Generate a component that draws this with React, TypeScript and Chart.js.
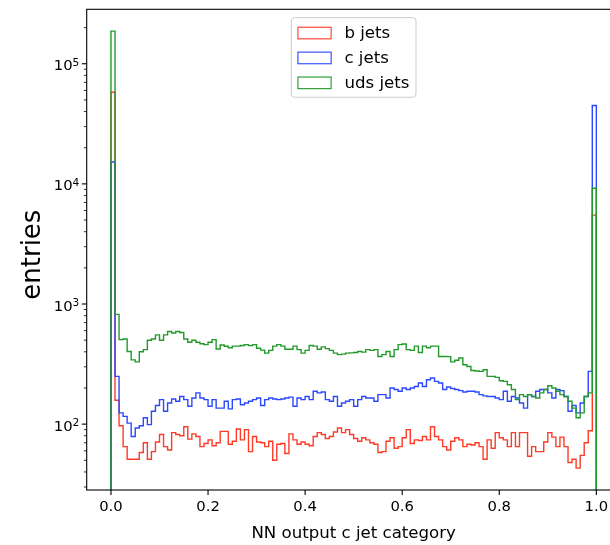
import React, { useEffect, useRef } from 'react';
import { Chart, registerables } from 'chart.js';

Chart.register(...registerables);

const FONT = '"DejaVu Sans", "Liberation Sans", sans-serif';

// Histogram binning of the NN output (c jet category score)
const BIN_MIN = 0;
const BIN_MAX = 1;

// Entries per bin, one value per bin from 0 to 1
const bJets = [
  58000, 158, 97, 65, 51, 51, 51, 58, 70, 51,
  59, 71, 82, 65, 61, 85, 82, 80, 95, 75,
  83, 79, 65, 69, 74, 66, 70, 87, 87, 68,
  72, 91, 74, 90, 59, 79, 71, 70, 65, 72,
  50, 68, 69, 57, 83, 74, 68, 71, 68, 66,
  79, 85, 82, 76, 79, 86, 93, 85, 90, 82,
  76, 72, 77, 74, 70, 68, 58, 59, 72, 77,
  63, 65, 77, 90, 69, 74, 73, 79, 74, 95,
  79, 74, 65, 61, 72, 77, 74, 65, 68, 67,
  70, 65, 51, 74, 63, 85, 77, 74, 65, 85,
  65, 85, 85, 54, 65, 59, 59, 71, 85, 78,
  65, 78, 65, 48, 51, 43, 55, 70, 88, 5500,
];

const cJets = [
  15200, 250, 124, 116, 102, 79, 93, 97, 113, 99,
  128, 143, 160, 128, 150, 162, 155, 170, 160, 141,
  165, 182, 165, 160, 141, 160, 136, 136, 155, 134,
  160, 162, 145, 150, 155, 160, 165, 143, 160, 165,
  162, 160, 162, 165, 168, 141, 165, 160, 170, 160,
  188, 182, 185, 160, 155, 170, 141, 150, 155, 160,
  141, 160, 170, 165, 165, 155, 176, 176, 165, 200,
  194, 188, 200, 194, 200, 206, 220, 206, 234, 242,
  227, 220, 194, 204, 198, 194, 190, 185, 188, 188,
  185, 176, 172, 170, 170, 165, 160, 188, 155, 170,
  165, 150, 136, 176, 170, 188, 194, 194, 182, 165,
  194, 190, 170, 128, 143, 124, 150, 170, 275, 44900,
];

const udsJets = [
  187000, 820, 505, 511, 403, 343, 330, 400, 417, 500,
  511, 553, 500, 553, 590, 574, 590, 580, 511, 480,
  500, 480, 467, 459, 480, 505, 422, 456, 445, 432,
  446, 446, 452, 459, 450, 459, 428, 413, 390, 411,
  446, 459, 446, 420, 420, 446, 417, 390, 411, 452,
  446, 420, 440, 425, 411, 390, 379, 383, 390, 392,
  395, 403, 398, 417, 411, 417, 366, 379, 403, 366,
  417, 459, 465, 417, 411, 446, 395, 446, 432, 446,
  446, 366, 366, 365, 330, 340, 355, 312, 302, 280,
  277, 275, 284, 250, 250, 245, 230, 227, 213, 194,
  160, 176, 170, 176, 170, 165, 182, 194, 209, 200,
  188, 176, 170, 155, 136, 113, 124, 170, 182, 9200,
];

const seriesLabels = ['b jets', 'c jets', 'uds jets'];
const seriesColors = ['#ff3a26', '#2a48ff', '#22992a'];

const xTickValues = [0, 0.2, 0.4, 0.6, 0.8, 1.0];
const xTickLabels = ['0.0', '0.2', '0.4', '0.6', '0.8', '1.0'];
const yMajorExponents = [2, 3, 4, 5];

const xTitle = 'NN output c jet category';
const yTitle = 'entries';

const X_MIN = -0.05;
const X_MAX = 1.05;
const Y_MIN = 28.3;
const Y_MAX = 2.84e5;

// value used for the outline's drop to the baseline (below the log axis, clipped)
const BASELINE = 1;

const CANVAS_W = 640;
const CANVAS_H = 545;

const TICK_FONT = 14.8;
const SUP_FONT = 10.6;

type Pt = { x: number; y: number };

// Outline of a step histogram: up at the first edge, across each bin, down at the last edge
function stepOutline(counts: number[]): Pt[] {
  const w = (BIN_MAX - BIN_MIN) / counts.length;
  const pts: Pt[] = [{ x: BIN_MIN, y: BASELINE }];
  counts.forEach((c, i) => {
    pts.push({ x: BIN_MIN + i * w, y: c });
    pts.push({ x: BIN_MIN + (i + 1) * w, y: c });
  });
  pts.push({ x: BIN_MAX, y: BASELINE });
  return pts;
}

const axesPlugin = {
  id: 'boxAxes',
  afterDatasetsDraw(chart: any) {
    const { ctx, chartArea: a, scales } = chart;
    const xs = scales.x;
    const ys = scales.y;
    ctx.save();
    ctx.strokeStyle = '#000';
    ctx.fillStyle = '#000';

    const seg = (x1: number, y1: number, x2: number, y2: number, lw: number) => {
      ctx.lineWidth = lw;
      ctx.beginPath();
      ctx.moveTo(x1, y1);
      ctx.lineTo(x2, y2);
      ctx.stroke();
    };

    // frame
    ctx.lineWidth = 1.1;
    ctx.strokeRect(a.left, a.top, a.right - a.left, a.bottom - a.top);

    // x ticks and labels
    ctx.font = `${TICK_FONT}px ${FONT}`;
    ctx.textAlign = 'center';
    ctx.textBaseline = 'alphabetic';
    xTickValues.forEach((v, i) => {
      const px = xs.getPixelForValue(v);
      seg(px, a.bottom, px, a.bottom + 4.9, 1.1);
      ctx.fillText(xTickLabels[i], px, a.bottom + 21.4);
    });

    // x title
    ctx.font = `16.6px ${FONT}`;
    ctx.fillText(xTitle, (a.left + a.right) / 2, a.bottom + 47.5);

    // y ticks: majors at decades, minors at 2..9 of each decade
    const eLo = Math.floor(Math.log10(Y_MIN));
    const eHi = Math.ceil(Math.log10(Y_MAX));
    for (let e = eLo; e <= eHi; e++) {
      for (let m = 1; m < 10; m++) {
        const v = m * Math.pow(10, e);
        if (v < Y_MIN || v > Y_MAX) continue;
        const py = ys.getPixelForValue(v);
        if (m === 1) seg(a.left - 4.9, py, a.left, py, 1.1);
        else seg(a.left - 2.8, py, a.left, py, 0.8);
      }
    }

    // y labels as 10 with a raised exponent
    ctx.textAlign = 'left';
    yMajorExponents.forEach((e) => {
      const py = ys.getPixelForValue(Math.pow(10, e));
      const base = '10';
      const sup = String(e);
      ctx.font = `${TICK_FONT}px ${FONT}`;
      const wBase = ctx.measureText(base).width;
      ctx.font = `${SUP_FONT}px ${FONT}`;
      const wSup = ctx.measureText(sup).width;
      const right = a.left - 7.4;
      const x0 = right - wBase - wSup;
      ctx.font = `${TICK_FONT}px ${FONT}`;
      ctx.fillText(base, x0, py + 6.6);
      ctx.font = `${SUP_FONT}px ${FONT}`;
      ctx.fillText(sup, x0 + wBase, py + 2.0);
    });

    // y title
    ctx.save();
    ctx.translate(40, (a.top + a.bottom) / 2 + 5);
    ctx.rotate(-Math.PI / 2);
    ctx.font = `26px ${FONT}`;
    ctx.textAlign = 'center';
    ctx.textBaseline = 'alphabetic';
    ctx.fillText(yTitle, 0, 0);
    ctx.restore();

    ctx.restore();
  },
};

const legendPlugin = {
  id: 'boxLegend',
  afterDraw(chart: any) {
    const { ctx, chartArea: a } = chart;
    const fs = 16.6;
    ctx.save();
    ctx.font = `${fs}px ${FONT}`;
    const textW = Math.max(...seriesLabels.map((s) => ctx.measureText(s).width));
    const pad = 0.4 * fs;
    const handleW = 2.0 * fs;
    const handleH = 0.7 * fs;
    const gap = 0.8 * fs;
    const rowH = fs;
    const spacing = 0.5 * fs;
    const boxW = pad * 2 + handleW + gap + textW;
    const boxH = pad * 2 + rowH * seriesLabels.length + spacing * (seriesLabels.length - 1);
    const cx = (a.left + a.right) / 2;
    const left = cx - boxW / 2;
    const top = a.top + 0.5 * fs;
    const r = 0.2 * fs;

    ctx.beginPath();
    ctx.moveTo(left + r, top);
    ctx.lineTo(left + boxW - r, top);
    ctx.quadraticCurveTo(left + boxW, top, left + boxW, top + r);
    ctx.lineTo(left + boxW, top + boxH - r);
    ctx.quadraticCurveTo(left + boxW, top + boxH, left + boxW - r, top + boxH);
    ctx.lineTo(left + r, top + boxH);
    ctx.quadraticCurveTo(left, top + boxH, left, top + boxH - r);
    ctx.lineTo(left, top + r);
    ctx.quadraticCurveTo(left, top, left + r, top);
    ctx.closePath();
    ctx.fillStyle = 'rgba(255,255,255,0.8)';
    ctx.fill();
    ctx.strokeStyle = '#cccccc';
    ctx.lineWidth = 1;
    ctx.stroke();

    seriesLabels.forEach((label, i) => {
      const cy = top + pad + i * (rowH + spacing) + rowH / 2;
      ctx.strokeStyle = seriesColors[i];
      ctx.lineWidth = 1.1;
      ctx.strokeRect(left + pad, cy - handleH / 2 + 0.5, handleW, handleH);
      ctx.fillStyle = '#000';
      ctx.textAlign = 'left';
      ctx.textBaseline = 'alphabetic';
      ctx.fillText(label, left + pad + handleW + gap, cy + 5.6);
    });
    ctx.restore();
  },
};

export default function App() {
  const canvasRef = useRef<HTMLCanvasElement>(null);

  useEffect(() => {
    const canvas = canvasRef.current;
    if (!canvas) return;
    const series = [bJets, cJets, udsJets];
    const chart = new Chart(canvas, {
      type: 'line',
      data: {
        datasets: series.map((counts, i) => ({
          label: seriesLabels[i],
          data: stepOutline(counts),
          borderColor: seriesColors[i],
          backgroundColor: seriesColors[i],
          borderWidth: 1.4,
          pointRadius: 0,
          pointHoverRadius: 0,
          fill: false,
          tension: 0,
          borderJoinStyle: 'miter' as const,
          order: series.length - 1 - i,
        })),
      },
      options: {
        responsive: false,
        animation: false,
        devicePixelRatio: 1,
        layout: {
          padding: { left: 86.7, right: CANVAS_W - 620.6, top: 9.3, bottom: CANVAS_H - 490 },
        },
        scales: {
          x: { type: 'linear', min: X_MIN, max: X_MAX, display: false },
          y: { type: 'logarithmic', min: Y_MIN, max: Y_MAX, display: false },
        },
        plugins: {
          legend: { display: false },
          tooltip: { enabled: false },
        },
        events: [],
      },
      plugins: [axesPlugin, legendPlugin],
    });
    return () => chart.destroy();
  }, []);

  return (
    <div
      style={{
        position: 'fixed',
        left: 0,
        top: 0,
        width: 610,
        height: 545,
        overflow: 'hidden',
        background: '#fff',
      }}
    >
      <canvas
        ref={canvasRef}
        width={CANVAS_W}
        height={CANVAS_H}
        style={{ display: 'block', width: CANVAS_W, height: CANVAS_H }}
      />
    </div>
  );
}
